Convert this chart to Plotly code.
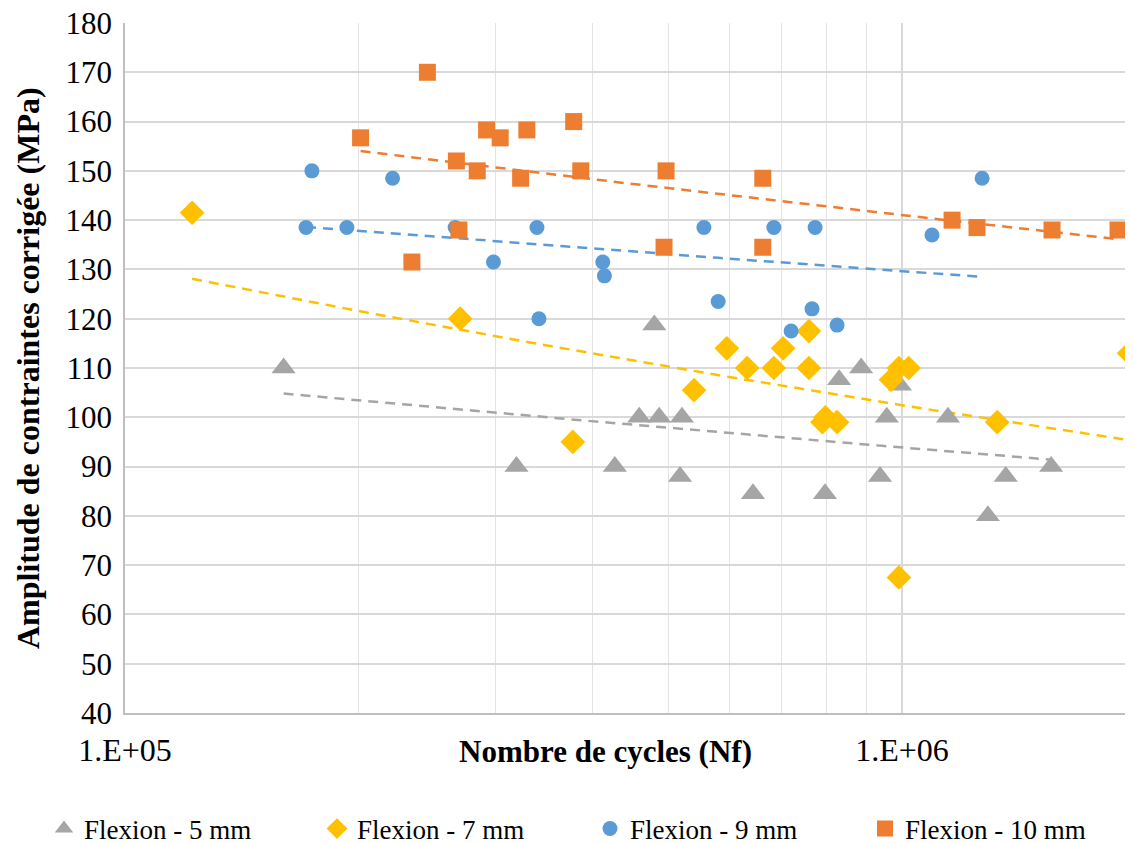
import numpy as np
import plotly.graph_objects as go

# Flexion - 5 mm
n5 = [1.60e5, 3.19e5, 4.27e5, 4.80e5, 4.59e5, 4.87e5, 5.21e5, 5.18e5, 6.43e5, 7.96e5,
      8.30e5, 8.86e5, 9.94e5, 9.56e5, 9.37e5, 1.146e6, 1.29e6, 1.36e6, 1.556e6]
s5 = [110, 90, 90, 118.7, 100, 100, 100, 88, 84.5, 84.5,
      107.6, 110, 106.5, 100, 88, 100, 80, 88, 90]

# Flexion - 7 mm
n7 = [1.22e5, 2.70e5, 3.77e5, 5.95e5, 5.40e5, 6.32e5, 6.84e5, 7.03e5, 7.59e5, 7.59e5,
      7.90e5, 7.97e5, 8.25e5, 9.68e5, 9.91e5, 1.02e6, 9.91e5, 1.326e6, 1.96e6]
s7 = [141.5, 120, 95, 114, 105.5, 110, 110, 114, 117.5, 110,
      99, 100, 99, 107.6, 110, 110, 67.5, 99, 113]

# Flexion - 9 mm
n9 = [1.74e5, 1.71e5, 1.93e5, 2.21e5, 2.66e5, 2.98e5, 3.39e5, 3.41e5, 4.12e5, 4.14e5,
      5.56e5, 6.84e5, 7.73e5, 5.80e5, 7.66e5, 7.20e5, 8.25e5, 1.093e6, 1.268e6]
s9 = [150, 138.5, 138.5, 148.5, 138.5, 131.5, 138.5, 120, 131.5, 128.7,
      138.5, 138.5, 138.5, 123.5, 122, 117.5, 118.7, 137, 148.5]

# Flexion - 10 mm
n10 = [2.45e5, 2.01e5, 2.92e5, 3.04e5, 3.29e5, 3.78e5, 2.67e5, 2.84e5, 3.23e5, 3.86e5,
       2.69e5, 2.34e5, 4.97e5, 4.94e5, 6.62e5, 6.62e5, 1.16e6, 1.249e6, 1.56e6, 1.897e6]
s10 = [170, 156.7, 158.3, 156.7, 158.3, 160, 152, 150, 148.5, 150,
       138, 131.5, 150, 134.5, 148.5, 134.5, 140, 138.5, 138, 138]

series_names = ["Flexion - 5 mm", "Flexion - 7 mm", "Flexion - 9 mm", "Flexion - 10 mm"]
y_ticks = list(range(40, 181, 10))
x_tick_vals = [1e5, 1e6]
x_tick_text = ["1.E+05", "1.E+06"]

FONT = "Liberation Serif"
colors = ["#A5A5A5", "#FFC000", "#5B9BD5", "#ED7D31"]
symbols = ["triangle-up", "diamond", "circle", "square"]
sizes = [21, 19, 15, 17]
legend_ids = ["legend", "legend2", "legend3", "legend4"]

# page body margin offset (8px) compensated
OFF = 8
W, H = 1133, 843
legend_x = [44 - OFF, 317 - OFF, 590 - OFF, 865 - OFF]

fig = go.Figure()
datasets = [(n5, s5), (n7, s7), (n9, s9), (n10, s10)]

# trendlines (power fit) drawn first
for (nx, sy), c in zip(datasets, colors):
    lx = np.log(np.array(nx, float))
    ly = np.log(np.array(sy, float))
    b, a = np.polyfit(lx, ly, 1)
    xs = np.logspace(np.log10(min(nx)), np.log10(max(nx)), 60)
    ys = np.exp(a) * xs ** b
    fig.add_trace(go.Scatter(x=xs, y=ys, mode="lines", showlegend=False, hoverinfo="skip",
                             line=dict(color=c, width=2.5, dash="10px,7px")))

for (nx, sy), name, c, sym, sz, lg in zip(datasets, series_names, colors, symbols, sizes, legend_ids):
    fig.add_trace(go.Scatter(x=nx, y=sy, mode="markers", name=name, legend=lg,
                             marker=dict(color=c, symbol=sym, size=sz, line=dict(width=0))))

legend_common = dict(orientation="h", xref="container", yref="container",
                     y=1 - (829 - OFF) / H, xanchor="left", yanchor="middle",
                     itemwidth=30, bgcolor="rgba(0,0,0,0)", borderwidth=0,
                     font=dict(family=FONT, size=27, color="black"))
fig.update_layout(
    width=W, height=H,
    margin=dict(l=125 - OFF, r=OFF, t=23 - OFF, b=H - (713 - OFF), autoexpand=False),
    paper_bgcolor="white", plot_bgcolor="white",
    font=dict(family=FONT, size=31, color="black"),
    showlegend=True,
    legend=dict(x=legend_x[0] / W, **legend_common),
    legend2=dict(x=legend_x[1] / W, **legend_common),
    legend3=dict(x=legend_x[2] / W, **legend_common),
    legend4=dict(x=legend_x[3] / W, **legend_common),
)
fig.update_xaxes(
    type="log", range=[5, np.log10(1.983e6)],
    tickvals=x_tick_vals, ticktext=x_tick_text,
    tickfont=dict(family=FONT, size=32),
    showgrid=True, gridcolor="#D9D9D9", gridwidth=1.5,
    minor=dict(tickvals=[2e5, 3e5, 4e5, 5e5, 6e5, 7e5, 8e5, 9e5], showgrid=True,
               gridcolor="#E3E3E3", gridwidth=1),
    showline=True, linecolor="#BFBFBF", linewidth=1.5,
    ticks="", ticklabelstandoff=8, zeroline=False, automargin=False,
    ticklabeloverflow="allow",
)
fig.update_yaxes(
    range=[40, 180.001], tickvals=y_ticks,
    tickfont=dict(family=FONT, size=31),
    showgrid=True, gridcolor="#D9D9D9", gridwidth=1.5,
    showline=True, linecolor="#BFBFBF", linewidth=1.5,
    ticks="", ticklabelstandoff=5, zeroline=False, automargin=False,
    ticklabeloverflow="allow",
)
fig.add_annotation(text="<b>Nombre de cycles (Nf)</b>", xref="paper", yref="paper",
                   x=(605 - 125) / 1008, y=(713 - 752) / 690, showarrow=False,
                   xanchor="center", yanchor="middle", font=dict(family=FONT, size=31))
fig.add_annotation(text="<b>Amplitude de contraintes corrigée (MPa)</b>", xref="paper", yref="paper",
                   x=(28 - 125) / 1008, y=0.5, showarrow=False, textangle=-90,
                   xanchor="center", yanchor="middle", font=dict(family=FONT, size=32))

fig.write_html("out.html")
